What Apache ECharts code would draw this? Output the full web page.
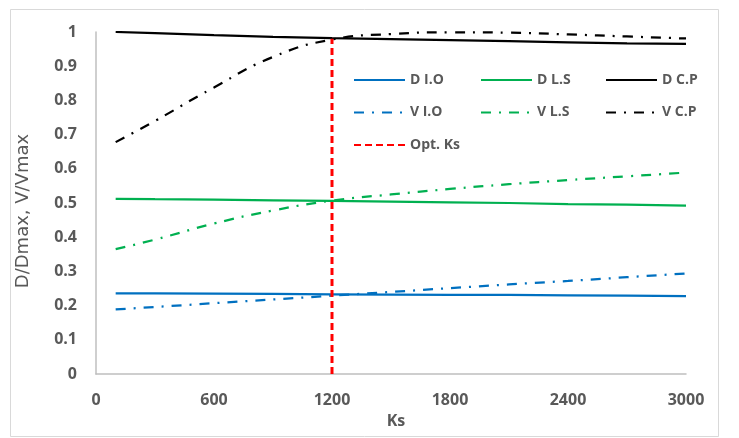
<!DOCTYPE html>
<html>
<head>
<meta charset="utf-8">
<script src="https://cdn.jsdelivr.net/npm/echarts@6/dist/echarts.min.js"></script>
<style>
  html, body { margin: 0; padding: 0; background: #fff; }
  #main { width: 739px; height: 438px; }
</style>
</head>
<body>
<div id="main"></div>
<script>
  var ks = [100, 300, 600, 900, 1200, 1500, 1800, 2100, 2400, 2700, 3000]
  var dIO = [0.236, 0.236, 0.235, 0.234, 0.233, 0.232, 0.231, 0.231, 0.230, 0.229, 0.228]
  var vIO = [0.189, 0.196, 0.207, 0.218, 0.229, 0.240, 0.251, 0.262, 0.272, 0.283, 0.294]
  var dLS = [0.512, 0.511, 0.510, 0.508, 0.506, 0.504, 0.502, 0.500, 0.497, 0.495, 0.492]
  var vLS = [0.365, 0.393, 0.440, 0.478, 0.507, 0.525, 0.541, 0.555, 0.567, 0.578, 0.589]
  var dCP = [1.0, 0.997, 0.991, 0.986, 0.982, 0.979, 0.976, 0.973, 0.970, 0.967, 0.965]
  var vCP = [0.678, 0.740, 0.838, 0.927, 0.978, 0.994, 0.999, 0.998, 0.993, 0.987, 0.981]
  var optKs = [[1200, 0], [1200, 0.98]]
  var yTicks = [0, 0.1, 0.2, 0.3, 0.4, 0.5, 0.6, 0.7, 0.8, 0.9, 1]
  var xTicks = [0, 600, 1200, 1800, 2400, 3000]

  function pairs(ys) {
    return ks.map(function (k, i) { return [k, ys[i]] })
  }

  var txt = '#595959'
  var font = 'Open Sans'
  var dashDot = [10, 8, 2, 8]

  function line(name, ys, color, dash, smooth) {
    return {
      name: name,
      type: 'line',
      data: pairs(ys),
      symbol: 'none',
      smooth: smooth || false,
      lineStyle: { color: color, width: 2.25, type: dash || 'solid' },
      itemStyle: { color: color },
      z: dash ? 3 : 2
    }
  }

  function legend(left, names) {
    return {
      orient: 'vertical',
      left: left,
      top: 68,
      itemWidth: 51,
      itemHeight: 14,
      itemGap: 18.5,
      data: names,
      selectedMode: false,
      itemStyle: { opacity: 0 },
      textStyle: { color: txt, fontSize: 14, fontWeight: 'bold', fontFamily: font }
    }
  }

  var chart = echarts.init(document.getElementById('main'))
  var option = {
    animation: false,
    backgroundColor: '#fff',
    textStyle: { fontFamily: font },
    graphic: [{
      type: 'rect',
      shape: { x: 10.5, y: 9.5, width: 708, height: 427 },
      style: { fill: 'none', stroke: '#d9d9d9', lineWidth: 1 },
      silent: true
    }, {
      type: 'text',
      x: 23,
      y: 211,
      rotation: Math.PI / 2,
      silent: true,
      style: {
        text: 'D/Dmax, V/Vmax',
        fill: txt,
        font: '18px "DejaVu Sans"',
        align: 'center',
        verticalAlign: 'middle'
      }
    }],
    grid: { left: 96, right: 53, top: 32, bottom: 64 },
    legend: [
      legend(348, ['D I.O', 'V I.O', 'Opt. Ks']),
      legend(475, ['D L.S', 'V L.S']),
      legend(600, ['D C.P', 'V C.P'])
    ],
    xAxis: {
      type: 'value',
      min: xTicks[0],
      max: xTicks[xTicks.length - 1],
      interval: 600,
      name: 'Ks',
      nameLocation: 'middle',
      nameGap: 39,
      nameTextStyle: { color: txt, fontSize: 16, fontWeight: 'bold', fontFamily: font, padding: [0, 0, 0, 10] },
      axisLine: { lineStyle: { color: '#bfbfbf', width: 1.5 } },
      axisTick: { show: false },
      splitLine: { show: false },
      axisLabel: {
        color: txt, fontSize: 16, fontWeight: 'bold', fontFamily: font, margin: 18,
        formatter: function (v) { return String(v) }
      }
    },
    yAxis: {
      type: 'value',
      min: yTicks[0],
      max: yTicks[yTicks.length - 1],
      interval: 0.1,
      axisLine: { show: true, lineStyle: { color: '#bfbfbf', width: 1.5 } },
      axisTick: { show: false },
      splitLine: { show: false },
      axisLabel: {
        color: txt, fontSize: 16, fontWeight: 'bold', fontFamily: font, margin: 19,
        formatter: function (v) { return String(Math.round(v * 10) / 10) }
      }
    },
    series: [
      line('D I.O', dIO, '#0070c0'),
      line('V I.O', vIO, '#0070c0', dashDot),
      line('D L.S', dLS, '#00b050'),
      line('V L.S', vLS, '#00b050', dashDot, true),
      line('D C.P', dCP, '#000000'),
      line('V C.P', vCP, '#000000', dashDot, true),
      {
        name: 'Opt. Ks',
        type: 'line',
        data: optKs,
        symbol: 'none',
        lineStyle: { color: '#ff0000', width: 3, type: [7, 4] },
        itemStyle: { color: '#ff0000' },
        z: 4
      }
    ]
  }
  chart.setOption(option)
</script>
</body>
</html>
